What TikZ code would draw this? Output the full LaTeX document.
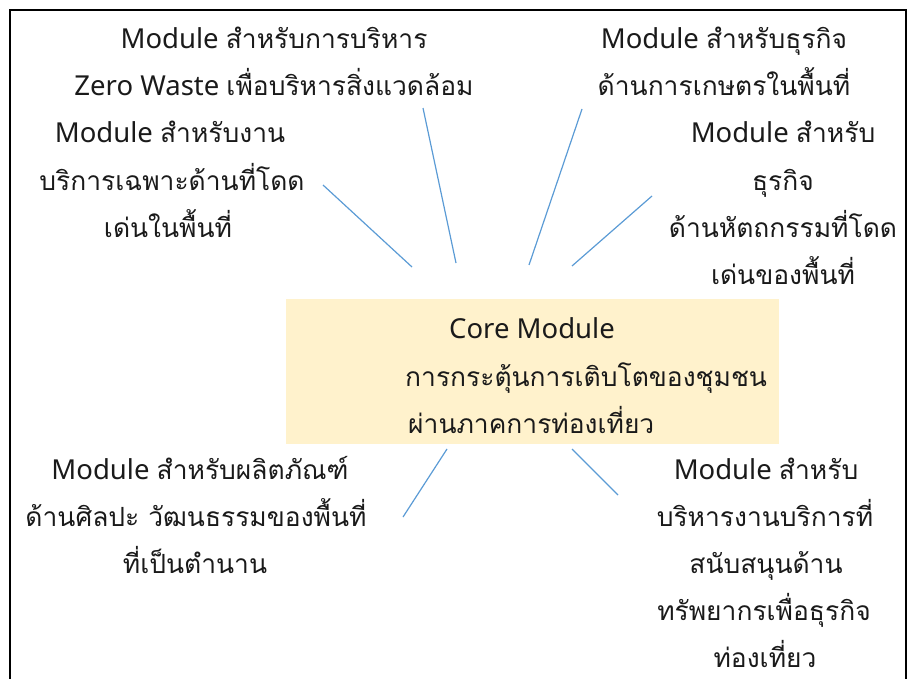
\documentclass[tikz,border=0pt]{standalone}
\usepackage{fontspec}
\setmainfont{Noto Sans}
\newfontfamily\thai[Script=Thai,Scale=0.96]{Loma}
\definecolor{corefill}{HTML}{FFF2CC}
\definecolor{linkblue}{HTML}{5B9BD5}
\definecolor{txtcol}{HTML}{1A1A1A}
\begin{document}
\begin{tikzpicture}[x=1pt,y=-1pt,
  txt/.style={anchor=base, inner sep=0pt, font=\fontsize{27.5}{32}\selectfont, text=txtcol},
  txtw/.style={txt, anchor=base west},
  link/.style={draw=linkblue, line width=1.2pt},
  frame/.style={line width=2pt, draw=black}]
\useasboundingbox (0,0) rectangle (912,679);
\draw[frame] (10,679) -- (10,10) -- (906,10) -- (906,679);
\node[fill=corefill, minimum width=493pt, minimum height=145pt, inner sep=0pt, anchor=north west] (core) at (286,299) {};
% top-left
\node[txt] (a1) at (274,49) {Module {\thai สำหรับการบริหาร}};
\node[txt] (a2) at (274,96) {Zero Waste {\thai เพื่อบริหารสิ่งแวดล้อม}};
% top-right
\node[txt] (b1) at (724,49) {Module {\thai สำหรับธุรกิจ}};
\node[txt] (b2) at (724,96) {\thai ด้านการเกษตรในพื้นที่};
% left
\node[txt] (c1) at (170,143) {Module {\thai สำหรับงาน}};
\node[txt] (c2) at (172,190) {\thai บริการเฉพาะด้านที่โดด};
\node[txt] (c3) at (168,237) {\thai เด่นในพื้นที่};
% right
\node[txt] (d1) at (783,143) {Module {\thai สำหรับ}};
\node[txt] (d2) at (783,190) {\thai ธุรกิจ};
\node[txt] (d3) at (783,237) {\thai ด้านหัตถกรรมที่โดด};
\node[txt] (d4) at (783,284) {\thai เด่นของพื้นที่};
% core
\node[txt] (e1) at (532,338) {Core Module};
\node[txtw] (e2) at (405,386) {\thai การกระตุ้นการเติบโตของชุมชน};
\node[txtw] (e3) at (408,433) {\thai ผ่านภาคการท่องเที่ยว};
% bottom-left
\node[txt] (f1) at (200,479) {Module {\thai สำหรับผลิตภัณฑ์}};
\node[txt] (f2) at (196,526) {\thai ด้านศิลปะ วัฒนธรรมของพื้นที่};
\node[txt] (f3) at (195,573) {\thai ที่เป็นตำนาน};
% bottom-right
\node[txt] (g1) at (766,479) {Module {\thai สำหรับ}};
\node[txt] (g2) at (765,526) {\thai บริหารงานบริการที่};
\node[txt] (g3) at (766,573) {\thai สนับสนุนด้าน};
\node[txt] (g4) at (764,620) {\thai ทรัพยากรเพื่อธุรกิจ};
\node[txt] (g5) at (765,667) {\thai ท่องเที่ยว};
% connectors
\coordinate (l1s) at (323,185); \coordinate (l1e) at (412,267);
\coordinate (l2s) at (423,108); \coordinate (l2e) at (456,263);
\coordinate (l3s) at (582,109); \coordinate (l3e) at (529,265);
\coordinate (l4s) at (652,196); \coordinate (l4e) at (572,266);
\coordinate (l5s) at (447,449); \coordinate (l5e) at (403,517);
\coordinate (l6s) at (572,449); \coordinate (l6e) at (618,495);
\draw[link] (l1s) -- (l1e);
\draw[link] (l2s) -- (l2e);
\draw[link] (l3s) -- (l3e);
\draw[link] (l4s) -- (l4e);
\draw[link] (l5s) -- (l5e);
\draw[link] (l6s) -- (l6e);
\end{tikzpicture}
\end{document}
